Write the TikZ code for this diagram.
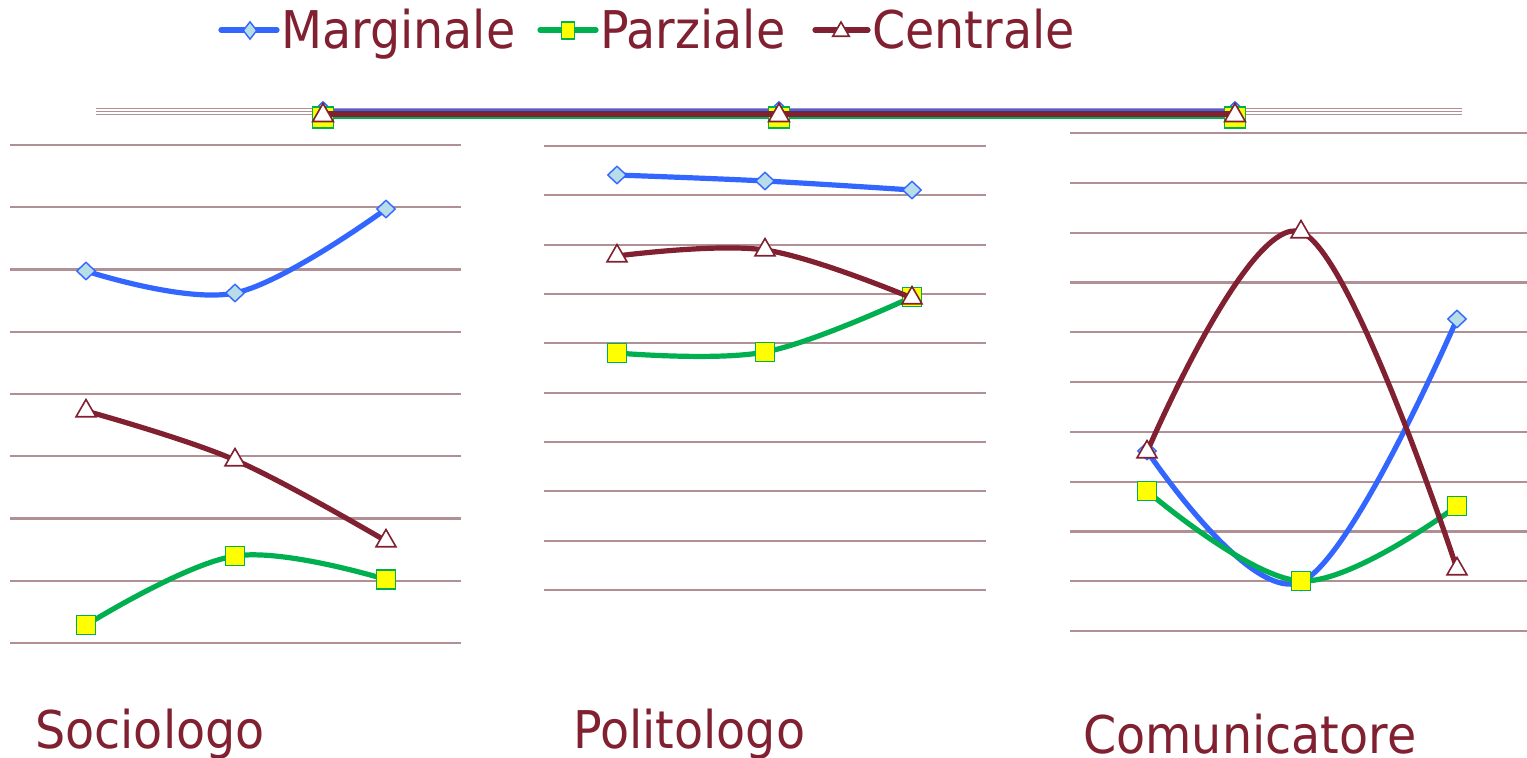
\documentclass[tikz,border=0pt]{standalone}
\usepackage{fontspec}
\setmainfont{DejaVu Sans}[FakeStretch=0.915]
\usetikzlibrary{shapes.geometric}
\definecolor{cMar}{RGB}{128,32,48}
\definecolor{cBlue}{RGB}{51,102,255}
\definecolor{cDia}{RGB}{183,221,232}
\definecolor{cGreen}{RGB}{0,176,80}
\definecolor{cYel}{RGB}{255,255,0}
\definecolor{cGrid}{RGB}{176,144,148}
\tikzset{
  gridline/.style={draw=cGrid, line width=2.2pt},
  bandline/.style={draw=cGrid, line width=1.6pt},
  blueline/.style={draw=cBlue, line width=5.2pt},
  greenline/.style={draw=cGreen, line width=5.2pt},
  marline/.style={draw=cMar, line width=5.2pt},
  mkdia/.style={diamond, draw=cBlue, fill=cDia, line width=1.4pt, inner sep=0pt, minimum width=19pt, minimum height=18pt},
  mksq/.style={rectangle, draw=cGreen, fill=cYel, line width=1.6pt, inner sep=0pt, minimum size=19pt},
  mktri/.style={regular polygon, regular polygon sides=3, draw=cMar, fill=white, line width=1.6pt, inner sep=0pt, minimum size=23pt},
  lbl/.style={text=cMar, inner sep=0pt, font=\fontsize{52}{60}\selectfont},
  smoothcurve/.style={smooth, tension=0.6}
}
\begin{document}
\begin{tikzpicture}[x=1pt, y=-1pt]
\useasboundingbox (0,0) rectangle (1527,758);
\fill[white] (0,0) rectangle (1527,758);

% ---------- legend ----------
\coordinate (lgBa) at (221,30); \coordinate (lgBb) at (277,30);
\coordinate (lgGa) at (540,30); \coordinate (lgGb) at (596,30);
\coordinate (lgMa) at (815,30); \coordinate (lgMb) at (868,30);
\draw[blueline, line cap=round] (lgBa) -- (lgBb);
\node[mkdia, minimum width=14pt, minimum height=18pt] (lgBm) at (250,30.5) {};
\draw[greenline, line cap=round] (lgGa) -- (lgGb);
\node[rectangle, draw=cGreen, fill=cYel, line width=1.6pt, inner sep=0pt, minimum width=13pt, minimum height=17pt] (lgGm) at (568,30.5) {};
\draw[marline, line cap=round] (lgMa) -- (lgMb);
\node[mktri, minimum size=19pt] (lgMm) at (841,31.5) {};
\node[lbl, anchor=base west] (lgBt) at (281,48) {Marginale};
\node[lbl, anchor=base west] (lgGt) at (600,48) {Parziale};
\node[lbl, anchor=base west] (lgMt) at (872,48) {Centrale};

% ---------- top band ----------
\foreach \y [count=\i] in {108.5,111.5,114.5}{
  \coordinate (tbL\i) at (96,\y); \coordinate (tbR\i) at (1462,\y);
  \draw[bandline] (tbL\i) -- (tbR\i);
}
\coordinate (tB1) at (323,110.5); \coordinate (tB2) at (779,110.5); \coordinate (tB3) at (1235,110.5);
\coordinate (tG1) at (323,116.5); \coordinate (tG2) at (779,116.5); \coordinate (tG3) at (1235,116.5);
\coordinate (tM1) at (323,114); \coordinate (tM2) at (779,114); \coordinate (tM3) at (1235,114);
\draw[blueline, line width=4pt] (tB1) -- (tB2) -- (tB3);
\foreach \i in {1,2,3}{\node[mkdia] (tBm\i) at (tB\i) {};}
\draw[greenline, line width=4pt] (tG1) -- (tG2) -- (tG3);
\foreach \i in {1,2,3}{\node[mksq, minimum size=21pt] (tGm\i) at ([yshift=-1pt]tG\i) {};}
\draw[marline, line width=6pt] (tM1) -- (tM2) -- (tM3);
\foreach \i in {1,2,3}{\node[mktri, minimum size=24pt] (tMm\i) at ([yshift=-1.5pt]tM\i) {};}

% ---------- panel 1: Sociologo ----------
\foreach \y [count=\i] in {145,207.25,269.5,331.75,394,456.25,518.5,580.75,643}{
  \coordinate (aL\i) at (10,\y); \coordinate (aR\i) at (461,\y);
  \draw[gridline] (aL\i) -- (aR\i);
}
\coordinate (aB1) at (86,271); \coordinate (aB2) at (235,293); \coordinate (aB3) at (386,209);
\coordinate (aG1) at (86,625); \coordinate (aG2) at (235,556); \coordinate (aG3) at (386,579.5);
\coordinate (aM1) at (86,411); \coordinate (aM2) at (235,460); \coordinate (aM3) at (386,541);
\draw[blueline] plot[smoothcurve] coordinates {(aB1) (aB2) (aB3)};
\foreach \i in {1,2,3}{\node[mkdia] (aBm\i) at (aB\i) {};}
\draw[greenline] plot[smoothcurve] coordinates {(aG1) (aG2) (aG3)};
\foreach \i in {1,2,3}{\node[mksq] (aGm\i) at (aG\i) {};}
\draw[marline] plot[smoothcurve] coordinates {(aM1) (aM2) (aM3)};
\foreach \i in {1,2,3}{\node[mktri] (aMm\i) at (aM\i) {};}

% ---------- panel 2: Politologo ----------
\foreach \y [count=\i] in {146,195.3,244.7,294,343.3,392.7,442,491.3,540.7,590}{
  \coordinate (bL\i) at (544,\y); \coordinate (bR\i) at (986,\y);
  \draw[gridline] (bL\i) -- (bR\i);
}
\coordinate (bB1) at (617,175); \coordinate (bB2) at (765,181); \coordinate (bB3) at (912,190);
\coordinate (bG1) at (617,353); \coordinate (bG2) at (765,352); \coordinate (bG3) at (912,297);
\coordinate (bM1) at (617,256); \coordinate (bM2) at (765,250); \coordinate (bM3) at (912,298);
\draw[blueline] plot[smoothcurve] coordinates {(bB1) (bB2) (bB3)};
\foreach \i in {1,2,3}{\node[mkdia] (bBm\i) at (bB\i) {};}
\draw[greenline] plot[smoothcurve] coordinates {(bG1) (bG2) (bG3)};
\foreach \i in {1,2,3}{\node[mksq] (bGm\i) at (bG\i) {};}
\draw[marline] plot[smoothcurve] coordinates {(bM1) (bM2) (bM3)};
\foreach \i in {1,2,3}{\node[mktri] (bMm\i) at (bM\i) {};}

% ---------- panel 3: Comunicatore ----------
\foreach \y [count=\i] in {133,182.8,232.6,282.4,332.2,382,431.8,481.6,531.4,581.2,631}{
  \coordinate (cL\i) at (1070,\y); \coordinate (cR\i) at (1527,\y);
  \draw[gridline] (cL\i) -- (cR\i);
}
\coordinate (cB1) at (1147,451); \coordinate (cB2) at (1301,582); \coordinate (cB3) at (1457,319);
\coordinate (cG1) at (1147,491); \coordinate (cG2) at (1301,581); \coordinate (cG3) at (1457,506);
\coordinate (cM1) at (1147,452); \coordinate (cM2) at (1301,232); \coordinate (cM3) at (1457,569);
\draw[blueline] plot[smoothcurve] coordinates {(cB1) (cB2) (cB3)};
\foreach \i in {1,2,3}{\node[mkdia] (cBm\i) at (cB\i) {};}
\draw[greenline] plot[smoothcurve] coordinates {(cG1) (cG2) (cG3)};
\foreach \i in {1,2,3}{\node[mksq] (cGm\i) at (cG\i) {};}
\draw[marline] plot[smoothcurve] coordinates {(cM1) (cM2) (cM3)};
\foreach \i in {1,2,3}{\node[mktri] (cMm\i) at (cM\i) {};}

% ---------- panel labels ----------
\node[lbl, anchor=base west] (lSoc) at (35,748) {Sociologo};
\node[lbl, anchor=base west] (lPol) at (573,748) {Politologo};
\node[lbl, anchor=base west] (lCom) at (1083,753) {Comunicatore};
\end{tikzpicture}
\end{document}
